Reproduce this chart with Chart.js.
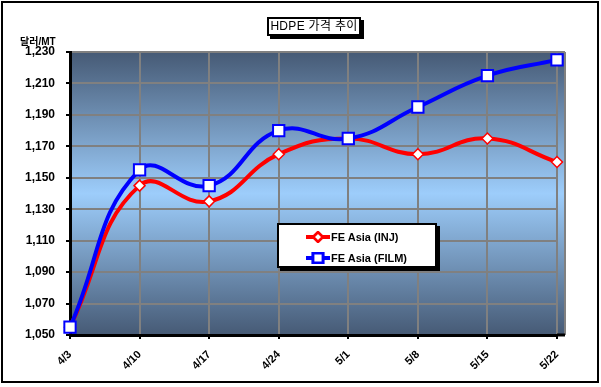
<!DOCTYPE html>
<html>
<head>
<meta charset="utf-8">
<script src="https://cdn.jsdelivr.net/npm/chart.js@4/dist/chart.umd.min.js"></script>
<style>
  html, body { margin: 0; padding: 0; background: #fff; }
  #wrap { position: relative; width: 601px; height: 387px; font-family: "Liberation Sans", "Noto Sans CJK KR", sans-serif; }
  #frame { position: absolute; left: 1px; top: 1px; width: 594px; height: 378px; border: 2px solid #000; pointer-events: none; }
  #title { position: absolute; left: 267px; top: 17px; width: 90px; height: 15px; border: 2px solid #000; background: #fff;
    box-shadow: 3px 3px 0 #000; font-size: 12px; line-height: 15px; text-align: center; white-space: nowrap; letter-spacing: 0.3px; }
  #yunit { position: absolute; left: 20px; top: 33px; font-size: 10px; font-weight: bold; }
  #legend { position: absolute; left: 277px; top: 223px; width: 156px; height: 41px; border: 2px solid #000; background: #fff;
    box-shadow: 3px 3px 0 #000; font-size: 11px; font-weight: bold; }
  .item { position: absolute; left: 27px; height: 14px; line-height: 14px; white-space: nowrap; }
  .item canvas { vertical-align: middle; }
  .item span { vertical-align: middle; margin-left: 1px; }
</style>
</head>
<body>
<div id="wrap">
  <canvas id="chart" width="601" height="387"></canvas>
  <div id="title">HDPE 가격 추이</div>
  <div id="yunit">달러/MT</div>
  <div id="legend">
    <div class="item" style="top:4px"><canvas id="lg0" width="24" height="12"></canvas><span id="lt0"></span></div>
    <div class="item" style="top:25px"><canvas id="lg1" width="24" height="12"></canvas><span id="lt1"></span></div>
  </div>
  <div id="frame"></div>
</div>
<script>
const categories = ["4/3", "4/10", "4/17", "4/24", "5/1", "5/8", "5/15", "5/22"];
const seriesNames = ["FE Asia (INJ)", "FE Asia (FILM)"];
const injValues = [1055, 1145, 1135, 1165, 1175, 1165, 1175, 1160];
const filmValues = [1055, 1155, 1145, 1180, 1175, 1195, 1215, 1225];
const yMin = 1050, yMax = 1230, yStep = 20;

const plotBackground = {
  id: "plotBackground",
  beforeDraw(chart) {
    const { ctx, chartArea: a } = chart;
    const g = ctx.createLinearGradient(0, a.top, 0, a.bottom);
    g.addColorStop(0, "#465a75");
    g.addColorStop(0.5, "#9dcdfb");
    g.addColorStop(1, "#465a75");
    ctx.save();
    ctx.fillStyle = g;
    ctx.fillRect(a.left, a.top, a.right - a.left + 8, a.bottom - a.top);
    ctx.strokeStyle = "#808080";
    ctx.lineWidth = 2;
    ctx.beginPath();
    ctx.moveTo(a.right + 8, a.top);
    ctx.lineTo(a.right + 8, a.bottom);
    ctx.moveTo(a.right, a.top);
    ctx.lineTo(a.right + 8, a.top);
    ctx.stroke();
    ctx.restore();
  },
  afterDraw(chart) {
    const { ctx, chartArea: a } = chart;
    ctx.save();
    ctx.strokeStyle = "#000";
    ctx.lineWidth = 3;
    ctx.beginPath();
    ctx.moveTo(a.right, a.bottom);
    ctx.lineTo(a.right + 8, a.bottom);
    ctx.stroke();
    ctx.restore();
  }
};

const chart = new Chart(document.getElementById("chart"), {
  type: "line",
  data: {
    labels: categories,
    datasets: [
      {
        label: seriesNames[0],
        data: injValues,
        order: 1,
        borderColor: "#ff0000",
        borderWidth: 4,
        pointStyle: "rectRot",
        pointRadius: 5.5,
        pointBorderWidth: 1.5,
        pointBackgroundColor: "#fff",
        pointBorderColor: "#ff0000",
        tension: 0.45
      },
      {
        label: seriesNames[1],
        data: filmValues,
        order: 0,
        borderColor: "#0000ff",
        borderWidth: 4,
        pointStyle: "rect",
        pointRadius: 8,
        pointBorderWidth: 2,
        pointBackgroundColor: "#fff",
        pointBorderColor: "#0000ff",
        tension: 0.45
      }
    ]
  },
  options: {
    responsive: false,
    animation: false,
    layout: { padding: { top: 52, right: 44, left: 0, bottom: 0 } },
    plugins: { legend: { display: false }, title: { display: false }, tooltip: { enabled: false } },
    scales: {
      x: {
        offset: false,
        grid: { color: "#808080", lineWidth: 2, drawTicks: true, tickLength: 4, tickColor: "#000" },
        border: { color: "#000", width: 3 },
        ticks: { color: "#000", font: { family: "Liberation Sans", size: 11, weight: "bold" }, minRotation: 45, maxRotation: 45, padding: 9 },
        afterFit(scale) { scale.height = 52; }
      },
      y: {
        min: yMin,
        max: yMax,
        grid: { color: "#808080", lineWidth: 2, drawTicks: true, tickLength: 4, tickColor: "#000" },
        border: { color: "#000", width: 3 },
        ticks: {
          stepSize: yStep,
          color: "#000",
          padding: 11,
          font: { family: "Liberation Sans", size: 12, weight: "bold" },
          callback: v => v.toLocaleString("en-US")
        },
        afterFit(scale) { scale.width = 70; }
      }
    }
  },
  plugins: [plotBackground]
});

// legend samples
chart.data.datasets.forEach((ds, i) => {
  const c = document.getElementById("lg" + i).getContext("2d");
  c.strokeStyle = ds.borderColor;
  c.lineWidth = 4;
  c.beginPath();
  c.moveTo(0, 6);
  c.lineTo(24, 6);
  c.stroke();
  Chart.helpers.drawPoint(c, {
    pointStyle: ds.pointStyle, radius: ds.pointRadius - 1.5, borderWidth: ds.pointBorderWidth
  }, 12, 6);
  c.fillStyle = "#fff";
  c.strokeStyle = ds.pointBorderColor;
  c.lineWidth = ds.pointBorderWidth;
  c.fill();
  c.stroke();
  document.getElementById("lt" + i).textContent = ds.label;
});
</script>
</body>
</html>
